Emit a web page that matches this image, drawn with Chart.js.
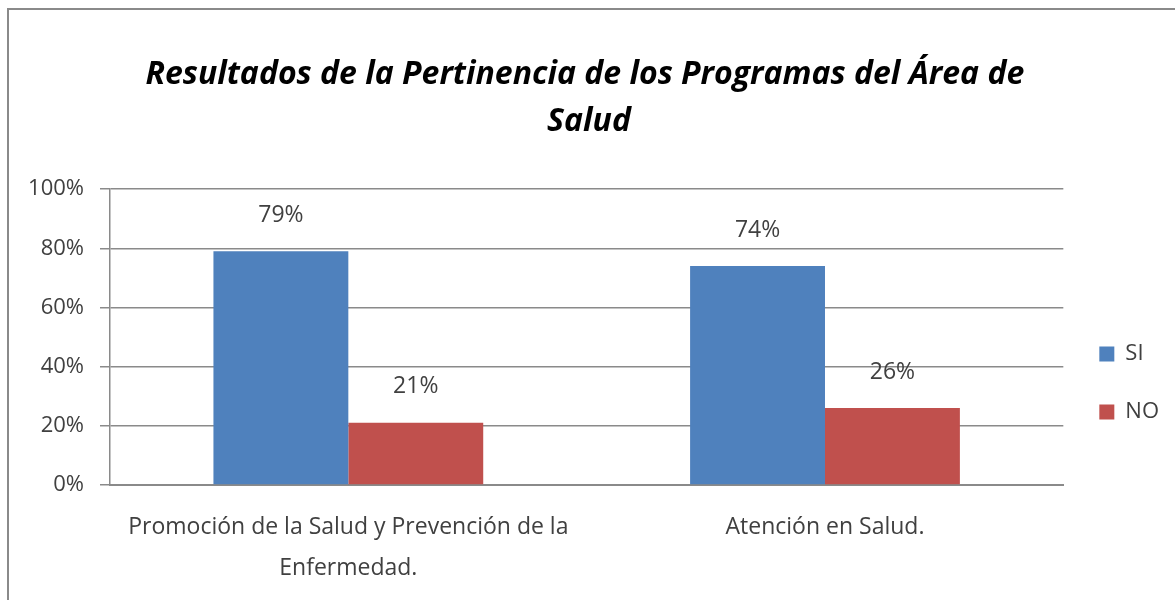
<!DOCTYPE html>
<html lang="es">
<head>
  <meta charset="UTF-8">
  <title>Resultados de la Pertinencia de los Programas del Área de Salud</title>
  <script src="https://cdn.jsdelivr.net/npm/chart.js"></script>
  <style>
    body { margin: 0; background: #fff; }
    #marco {
      position: absolute; left: 7px; top: 8px; width: 1166px; height: 590px;
      border-left: 2px solid #8a8a8a; border-top: 2px solid #8a8a8a;
    }
  </style>
</head>
<body>
  <div id="marco">
    <canvas id="pertinenciaChart"></canvas>
  </div>

  <script>
    const categorias = [
      ['Promoción de la Salud y Prevención de la', 'Enfermedad.'],
      'Atención en Salud.'
    ];
    const valoresSI = [79, 74];
    const valoresNO = [21, 26];
    const ticksY = [0, 20, 40, 60, 80, 100];

    const fuente = "'Open Sans', sans-serif";

    // etiquetas de porcentaje encima de cada barra
    const etiquetas = {
      id: 'etiquetas',
      afterDatasetsDraw(chart) {
        const ctx = chart.ctx;
        ctx.save();
        ctx.font = '23px ' + fuente;
        ctx.fillStyle = '#404040';
        ctx.textAlign = 'center';
        ctx.textBaseline = 'middle';
        chart.data.datasets.forEach((ds, i) => {
          chart.getDatasetMeta(i).data.forEach((bar, j) => {
            ctx.fillText(ds.data[j] + '%', bar.x, bar.y - 36);
          });
        });
        ctx.restore();
      }
    };

    const data = {
      labels: categorias,
      datasets: [{
        label: 'SI',
        data: valoresSI,
        backgroundColor: '#4F81BD'
      }, {
        label: 'NO',
        data: valoresNO,
        backgroundColor: '#C0504D'
      }]
    };

    const config = {
      type: 'bar',
      data: data,
      plugins: [etiquetas],
      options: {
        responsive: true,
        maintainAspectRatio: false,
        animation: false,
        categoryPercentage: 0.566,
        barPercentage: 1,
        layout: { padding: { left: 0, right: 6, top: 0, bottom: 0 } },
        plugins: {
          title: {
            display: true,
            text: ['Resultados de la Pertinencia de los Programas del Área de ', 'Salud'],
            font: { family: fuente, size: 32, weight: 'bold', style: 'italic', lineHeight: 1.47 },
            color: '#000',
            padding: { top: 41, bottom: 44 }
          },
          legend: {
            position: 'right',
            title: { display: true, text: ' ', font: { size: 10, lineHeight: 1.2 }, padding: { top: 144, bottom: 0 } },
            labels: {
              boxWidth: 15,
              boxHeight: 15,
              padding: 36,
              color: '#404040',
              font: { family: fuente, size: 22 }
            }
          },
          tooltip: { enabled: false }
        },
        scales: {
          x: {
            afterFit: axis => { axis.height = 115; },
            grid: { display: false },
            border: { color: '#8a8a8a', width: 2 },
            ticks: {
              color: '#404040',
              padding: 14,
              font: { family: fuente, size: 23, lineHeight: 1.78 }
            }
          },
          y: {
            min: 0,
            max: 100,
            afterFit: axis => { axis.width = 101; },
            afterBuildTicks: axis => { axis.ticks = ticksY.map(v => ({ value: v })); },
            grid: { color: '#8a8a8a', lineWidth: 1.5, tickLength: 10 },
            border: { color: '#8a8a8a', width: 1.5 },
            ticks: {
              color: '#404040',
              padding: 16,
              font: { family: fuente, size: 22 },
              callback: v => v + '%'
            }
          }
        }
      }
    };

    new Chart(document.getElementById('pertinenciaChart'), config);
  </script>
</body>
</html>
